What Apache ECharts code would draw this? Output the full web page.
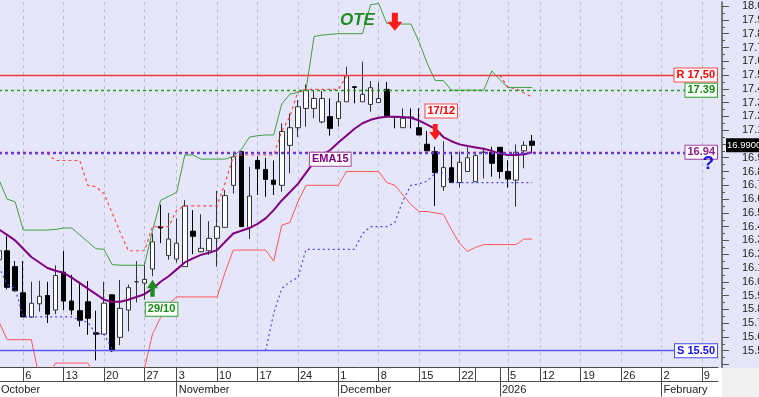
<!DOCTYPE html>
<html>
<head>
<meta charset="utf-8">
<title>OTE</title>
<script src="https://cdn.jsdelivr.net/npm/echarts@6/dist/echarts.min.js"></script>
<style>
  html, body { margin: 0; padding: 0; background: #fff; }
  #main { width: 759px; height: 397px; }
</style>
</head>
<body>
<div id="main"></div>
<script>
// 交易日（含右侧空白的未来日期）
const dates = [
  '2025-10-01', '2025-10-02', '2025-10-03',
  '2025-10-06', '2025-10-07', '2025-10-08', '2025-10-09', '2025-10-10',
  '2025-10-13', '2025-10-14', '2025-10-15', '2025-10-16', '2025-10-17',
  '2025-10-20', '2025-10-21', '2025-10-22', '2025-10-23', '2025-10-24',
  '2025-10-27', '2025-10-29', '2025-10-30', '2025-10-31',
  '2025-11-03', '2025-11-04', '2025-11-05', '2025-11-06', '2025-11-07',
  '2025-11-10', '2025-11-11', '2025-11-12', '2025-11-13', '2025-11-14',
  '2025-11-17', '2025-11-18', '2025-11-19', '2025-11-20', '2025-11-21',
  '2025-11-24', '2025-11-25', '2025-11-26', '2025-11-27', '2025-11-28',
  '2025-12-01', '2025-12-02', '2025-12-03', '2025-12-04', '2025-12-05',
  '2025-12-08', '2025-12-09', '2025-12-10', '2025-12-11', '2025-12-12',
  '2025-12-15', '2025-12-16', '2025-12-17', '2025-12-18', '2025-12-19',
  '2025-12-22', '2025-12-23',
  '2025-12-29', '2025-12-30', '2025-12-31',
  '2026-01-02',
  '2026-01-05', '2026-01-06', '2026-01-07', '2026-01-08',
  '2026-01-12', '2026-01-13', '2026-01-14', '2026-01-15', '2026-01-16',
  '2026-01-19', '2026-01-20', '2026-01-21', '2026-01-22', '2026-01-23',
  '2026-01-26', '2026-01-27', '2026-01-28', '2026-01-29', '2026-01-30',
  '2026-02-02', '2026-02-03', '2026-02-04', '2026-02-05', '2026-02-06',
  '2026-02-09', '2026-02-10', '2026-02-11'
]

// 日K [开, 收, 低, 高]
const candles = [
  [16.16, 16.225, 16.10, 16.30], [16.225, 15.96, 15.945, 16.33], [16.11, 15.935, 15.93, 16.15],
  [15.92, 15.745, 15.745, 16.15], [15.743, 15.844, 15.74, 16.00], [15.84, 15.895, 15.783, 16.007],
  [15.90, 15.765, 15.70, 16.00], [15.795, 16.045, 15.765, 16.12], [16.07, 15.86, 15.795, 16.225],
  [15.86, 15.795, 15.76, 16.05], [15.79, 15.72, 15.675, 16.00], [15.855, 15.735, 15.615, 16.005],
  [15.63, 15.62, 15.43, 15.79], [15.62, 15.845, 15.615, 16.00], [15.905, 15.50, 15.49, 15.91],
  [15.597, 15.807, 15.54, 16.013], [15.795, 15.957, 15.64, 15.98], [16.00, 16.00, 15.85, 16.15],
  [15.99, 16.017, 15.87, 16.14], [16.093, 16.29, 16.04, 16.35], [16.40, 16.39, 16.28, 16.56],
  [16.19, 16.31, 16.16, 16.50], [16.165, 16.28, 16.14, 16.46], [16.11, 16.55, 16.11, 16.593],
  [16.367, 16.33, 16.20, 16.52], [16.218, 16.243, 16.215, 16.49], [16.225, 16.315, 16.195, 16.44],
  [16.315, 16.40, 16.11, 16.66], [16.395, 16.625, 16.395, 16.666], [16.70, 16.906, 16.64, 16.944],
  [16.944, 16.40, 16.40, 16.95], [16.395, 16.622, 16.31, 16.835], [16.88, 16.82, 16.63, 16.91],
  [16.815, 16.743, 16.617, 16.90], [16.738, 16.707, 16.63, 16.88], [16.70, 17.09, 16.653, 17.15],
  [16.99, 17.118, 16.787, 17.22], [17.118, 17.27, 17.05, 17.318], [17.258, 17.39, 17.125, 17.432],
  [17.258, 17.33, 17.186, 17.39], [17.16, 17.33, 17.15, 17.384], [17.198, 17.113, 17.06, 17.33],
  [17.185, 17.306, 17.125, 17.374], [17.306, 17.495, 17.306, 17.56], [17.415, 17.41, 17.295, 17.42],
  [17.306, 17.36, 17.306, 17.597], [17.287, 17.408, 17.234, 17.456], [17.30, 17.33, 17.30, 17.447],
  [17.396, 17.205, 17.205, 17.45], [17.198, 17.195, 17.113, 17.20], [17.118, 17.186, 17.118, 17.258],
  [17.195, 17.19, 17.113, 17.258], [17.118, 17.065, 17.065, 17.258], [16.998, 16.95, 16.95, 17.094],
  [16.944, 16.792, 16.55, 16.98], [16.69, 16.828, 16.66, 17.02], [16.828, 16.72, 16.72, 16.925],
  [16.72, 16.867, 16.683, 16.944], [16.80, 16.90, 16.80, 16.975], [16.726, 16.915, 16.726, 16.944],
  [16.94, 16.94, 16.75, 16.97], [16.94, 16.86, 16.763, 16.98], [16.976, 16.80, 16.75, 16.976],
  [16.80, 16.745, 16.683, 16.883], [16.738, 16.94, 16.545, 16.997], [16.95, 16.99, 16.823, 17.02],
  [17.02, 16.99, 16.94, 17.065]
]

// EMA15
const ema15 = [
  16.38, 16.34, 16.30, 16.24, 16.18, 16.14, 16.10, 16.08, 16.065, 16.03,
  15.99, 15.95, 15.91, 15.87, 15.855, 15.855, 15.87, 15.89, 15.91, 15.95,
  16.00, 16.04, 16.09, 16.14, 16.17, 16.195, 16.21, 16.23, 16.29, 16.35,
  16.37, 16.39, 16.42, 16.46, 16.52, 16.59, 16.65, 16.71, 16.79, 16.87,
  16.92, 16.956, 17.01, 17.06, 17.11, 17.15, 17.175, 17.19, 17.197, 17.198,
  17.195, 17.19, 17.17, 17.14, 17.11, 17.05, 17.02, 16.997, 16.985, 16.975,
  16.965, 16.95, 16.93, 16.92, 16.92, 16.925, 16.94
]

// 上轨（绿）
const upperBand = [
  16.74, 16.60, 16.58, 16.375, 16.375, 16.375, 16.375, 16.38, 16.39, 16.39,
  16.34, 16.29, 16.24, 16.235, 16.125, 16.12, 16.12, 16.12, 16.12, 16.37,
  16.59, 16.62, 16.65, 16.92, 16.92, 16.89, 16.89, 16.89, 16.89, 16.91,
  16.96, 17.05, 17.06, 17.065, 17.065, 17.29, 17.36, 17.375, 17.39, 17.78,
  17.79, 17.795, 17.80, 17.80, 17.80, 17.80, 18.01, 18.02, 17.875, 17.87,
  17.87, 17.87, 17.74, 17.585, 17.46, 17.46, 17.39, 17.39, 17.39, 17.39,
  17.39, 17.53, 17.466, 17.41, 17.41, 17.41, 17.41
]

// 下轨（红）
const lowerBand = [
  15.71, 15.58, 15.58, 15.58, 15.58, 15.30, 15.30, 15.41, 15.41, 15.41,
  15.41, 15.41, 15.30, 15.30, 15.30, 15.30, 15.30, 15.30, 15.37, 15.62,
  15.74, 15.84, 15.89, 15.89, 15.89, 15.89, 15.89, 15.89, 16.07, 16.23,
  16.23, 16.23, 16.23, 16.23, 16.15, 16.41, 16.43, 16.58, 16.70, 16.70,
  16.70, 16.70, 16.70, 16.80, 16.80, 16.80, 16.80, 16.80, 16.72, 16.70,
  16.63, 16.56, 16.51, 16.51, 16.50, 16.49, 16.38, 16.28, 16.22, 16.25,
  16.27, 16.27, 16.27, 16.27, 16.27, 16.31, 16.31
]

// 止损线（红虚线）
const stopRed = [
  16.93, 16.93, 16.93, 16.93, 16.93, 16.93, 16.93, 16.88, 16.88, 16.88,
  16.88, 16.70, 16.69, 16.64, 16.50, 16.36, 16.225, 16.225, 16.225, 16.40,
  16.40, 16.40, 16.52, 16.55, 16.55, 16.55, 16.55, 16.55, 16.72, 16.907,
  16.92, 16.92, 16.92, 16.92, 16.92, 17.09, 17.20, 17.38, 17.396, 17.396,
  17.396, 17.396, 17.396, 17.49, null, null, null, null, null, null,
  null, null, null, null, null, null, null, null, null, null,
  null, null, 17.50, 17.41, 17.40, 17.37, 17.34
]

// 止损线（蓝虚线）
const stopBlue = [
  16.11, 15.98, 15.95, 15.745, 15.745, 15.745, 15.745, 15.745, 15.745, 15.745,
  15.72, 15.705, 15.625, 15.62, 15.51, null, null, null, null, null,
  null, null, null, null, null, null, null, null, null, null,
  null, null, null, 15.50, 15.77, 15.95, 16.00, 16.03, 16.235, 16.235,
  16.235, 16.235, 16.235, 16.235, 16.235, 16.35, 16.40, 16.40, 16.40, 16.43,
  16.59, 16.70, 16.71, 16.73, 16.79, 16.79, 16.72, 16.72, 16.72, 16.72,
  16.72, 16.72, 16.72, 16.72, 16.72, 16.72, 16.72
]

// 水平价位
const levelValues = [17.50, 17.39, 16.94, 16.93, 15.50]
const levelTexts = ['R 17,50', '17.39', '16.94', '', 'S 15.50']
const lastPrice = 16.99

// 坐标轴刻度
const yMajorTicks = [15.4, 15.5, 15.6, 15.7, 15.8, 15.9, 16.0, 16.1, 16.2, 16.3, 16.4, 16.5, 16.6, 16.7,
  16.8, 16.9, 17.0, 17.1, 17.2, 17.3, 17.4, 17.5, 17.6, 17.7, 17.8, 17.9, 18.0]
const yLabelTicks = [15.5, 15.6, 15.7, 15.8, 15.9, 16.0, 16.1, 16.2, 16.3, 16.4, 16.5, 16.6, 16.7,
  16.8, 16.9, 17.0, 17.1, 17.2, 17.3, 17.4, 17.5, 17.6, 17.7, 17.8, 17.9, 18.0]
const yMinorTicks = [15.45, 15.55, 15.65, 15.75, 15.85, 15.95, 16.05, 16.15, 16.25, 16.35, 16.45, 16.55,
  16.65, 16.75, 16.85, 16.95, 17.05, 17.15, 17.25, 17.35, 17.45, 17.55, 17.65, 17.75, 17.85, 17.95]
const weekStarts = ['2025-10-06', '2025-10-13', '2025-10-20', '2025-10-27', '2025-11-03', '2025-11-10',
  '2025-11-17', '2025-11-24', '2025-12-01', '2025-12-08', '2025-12-15', '2025-12-22', '2026-01-05',
  '2026-01-12', '2026-01-19', '2026-01-26', '2026-02-02', '2026-02-09']
const blankCells = ['2025-12-29', '2026-01-02']
const monthStarts = ['2025-10-01', '2025-11-03', '2025-12-01', '2026-01-02', '2026-02-02']
const monthNames = ['October', 'November', 'December', '2026', 'February']

const FONT = 'Liberation Sans, Arial, sans-serif'
const arrowDown = 'path://M3,0 L7,0 L7,8 L10,8 L5,16 L0,8 L3,8 Z'
const arrowUp = 'path://M5,0 L10,8 L7,8 L7,16 L3,16 L3,8 L0,8 Z'

const levelStyles = [
  { line: '#F03C3C', type: 'solid', text: '#FF0000', border: '#FF4A4A' },
  { line: '#1FA01F', type: [3, 3], text: '#138A13', border: '#2EA02E' },
  { line: '#A020A0', type: [3, 3], text: '#8E1A8E', border: '#A040A0' },
  { line: '#4A4AF5', type: [3, 3], text: '#4A4AF5', border: '#4A4AF5' },
  { line: '#5A5AFF', type: 'solid', text: '#1010F0', border: '#4A4AFF' }
]

// 标签框样式
function boxLabel (text, color, border, extra) {
  return Object.assign({
    show: true,
    formatter: text,
    color: color,
    backgroundColor: '#FFFFFF',
    borderColor: border,
    borderWidth: 1,
    padding: [1, 2],
    lineHeight: 11,
    fontSize: 11,
    fontWeight: 'bold',
    fontFamily: FONT
  }, extra || {})
}

function textNote (day, price, label) {
  return {
    coord: [day, price],
    symbol: 'rect',
    symbolSize: 1,
    itemStyle: { color: 'transparent' },
    label: Object.assign({ position: 'inside' }, label)
  }
}

function arrowNote (day, price, path, size, color) {
  return {
    coord: [day, price],
    symbol: path,
    symbolSize: size,
    symbolKeepAspect: false,
    itemStyle: { color: color },
    label: { show: false }
  }
}

const levelLines = levelValues.map((v, i) => {
  const s = levelStyles[i]
  return {
    yAxis: v,
    lineStyle: { color: s.line, type: s.type, width: 1.3 },
    label: levelTexts[i]
      ? boxLabel(levelTexts[i], s.text, s.border, { position: 'insideEnd', distance: 1 })
      : { show: false }
  }
})
levelLines.push({
  yAxis: lastPrice,
  lineStyle: { color: 'rgba(0,0,0,0)', width: 0 },
  label: {
    show: true,
    position: 'end',
    distance: 8,
    formatter: lastPrice.toFixed(4),
    color: '#FFFFFF',
    backgroundColor: '#000000',
    padding: [2, 1],
    lineHeight: 10,
    fontSize: 9.5,
    fontFamily: FONT
  }
})

const notes = [
  textNote(dates[44], 17.899, {
    show: true, offset: [3, 0], formatter: 'OTE', color: '#1E8C1E',
    fontSize: 17, fontWeight: 'bold', fontStyle: 'italic', fontFamily: FONT
  }),
  arrowNote(dates[49], 17.887, arrowDown, [15, 18], '#FF1A1A'),
  arrowNote(dates[54], 17.086, arrowDown, [12, 16], '#FF1A1A'),
  arrowNote(dates[19], 15.953, arrowUp, [11, 17], '#1E8C1E'),
  textNote(dates[20], 15.80, boxLabel('29/10', '#138A13', '#2EA02E', { offset: [1, 0] })),
  textNote(dates[54], 17.24, boxLabel('17/12', '#FF0000', '#FF4A4A', { offset: [6, 0] })),
  textNote(dates[41], 16.889, boxLabel('EMA15', '#800080', '#A040A0')),
  textNote(dates[88], 16.858, {
    show: true, offset: [-1.5, 0], formatter: '?', color: '#1515D8',
    fontSize: 19, fontWeight: 'bold', fontFamily: FONT
  })
]

const chartInstance = echarts.init(document.getElementById('main'), null, { renderer: 'canvas' })

const initOption = {
  animation: false,
  backgroundColor: '#E6E6FA',
  textStyle: { fontFamily: FONT },
  graphic: [
    { type: 'rect', z: -10, silent: true, shape: { x: 0, y: 368, width: 722, height: 29 }, style: { fill: '#FFFFFF' } },
    { type: 'rect', z: -10, silent: true, shape: { x: 722, y: 368, width: 37, height: 29 }, style: { fill: '#F0F0F0' } }
  ],
  grid: {
    left: -1,
    top: 2,
    width: 719,
    height: 365.5,
    containLabel: false,
    outerBoundsMode: 'none'
  },
  xAxis: [
    {
      type: 'category',
      data: dates,
      boundaryGap: false,
      position: 'bottom',
      axisLine: { onZero: false, lineStyle: { color: '#4A4A4A', width: 1 } },
      axisTick: {
        interval: (i, v) => weekStarts.includes(v) || blankCells.includes(v),
        length: 14,
        lineStyle: { color: '#4A4A4A', width: 1 }
      },
      axisLabel: {
        interval: 0,
        align: 'left',
        margin: 3,
        padding: [0, 0, 0, 2],
        fontSize: 11,
        color: '#222',
        formatter: v => weekStarts.includes(v) ? String(parseInt(v.slice(8), 10)) : ''
      },
      splitLine: {
        show: true,
        interval: (i, v) => weekStarts.includes(v),
        lineStyle: { color: '#BDBDC8', type: [3, 4], width: 1 }
      }
    },
    {
      type: 'category',
      data: dates,
      boundaryGap: false,
      position: 'bottom',
      offset: 14,
      axisLine: { onZero: false, lineStyle: { color: '#4A4A4A', width: 1 } },
      axisTick: {
        interval: (i, v) => monthStarts.includes(v),
        length: 15,
        lineStyle: { color: '#4A4A4A', width: 1 }
      },
      axisLabel: {
        interval: 0,
        align: 'left',
        margin: 3,
        padding: [0, 0, 0, 2],
        fontSize: 11,
        color: '#222',
        formatter: v => {
          const k = monthStarts.indexOf(v)
          return k >= 0 ? monthNames[k] : ''
        }
      },
      splitLine: { show: false }
    }
  ],
  yAxis: [
    {
      type: 'value',
      position: 'right',
      offset: 4,
      min: 15.378,
      max: 18.03,
      axisLine: { show: true, lineStyle: { color: '#555555', width: 1.5 } },
      axisTick: { show: true, customValues: yMajorTicks, length: 7, lineStyle: { color: '#555555' } },
      axisLabel: {
        customValues: yLabelTicks,
        margin: 20,
        fontSize: 11,
        color: '#222',
        formatter: v => v.toFixed(1)
      },
      splitLine: { show: false }
    },
    {
      type: 'value',
      position: 'right',
      offset: 4,
      min: 15.378,
      max: 18.03,
      axisLine: { show: false },
      axisTick: { show: true, customValues: yMinorTicks, length: 3, lineStyle: { color: '#555555' } },
      axisLabel: { show: false },
      splitLine: { show: false }
    }
  ],
  series: [
    {
      name: 'upper',
      type: 'line',
      data: upperBand,
      symbol: 'none',
      lineStyle: { color: '#3E9E3E', width: 1 }
    },
    {
      name: 'lower',
      type: 'line',
      data: lowerBand,
      symbol: 'none',
      lineStyle: { color: '#FF5656', width: 1 }
    },
    {
      name: 'stopRed',
      type: 'line',
      data: stopRed,
      symbol: 'none',
      connectNulls: false,
      lineStyle: { color: '#FF4A4A', width: 1.2, type: [3, 3] }
    },
    {
      name: 'stopBlue',
      type: 'line',
      data: stopBlue,
      symbol: 'none',
      connectNulls: false,
      lineStyle: { color: '#4646F0', width: 1.2, type: [2, 3] }
    },
    {
      name: 'levels',
      type: 'line',
      data: [],
      symbol: 'none',
      markLine: { silent: true, symbol: ['none', 'none'], data: levelLines }
    },
    {
      name: 'price',
      type: 'candlestick',
      data: candles,
      barWidth: 5,
      itemStyle: {
        color: '#FFFFFF',
        color0: '#000000',
        borderColor: '#333333',
        borderColor0: '#000000',
        borderWidth: 1
      }
    },
    {
      name: 'EMA15',
      type: 'line',
      data: ema15,
      symbol: 'none',
      lineStyle: { color: '#800080', width: 2 },
      markPoint: { silent: true, data: notes }
    }
  ]
}

chartInstance.setOption(initOption)
</script>
</body>
</html>
